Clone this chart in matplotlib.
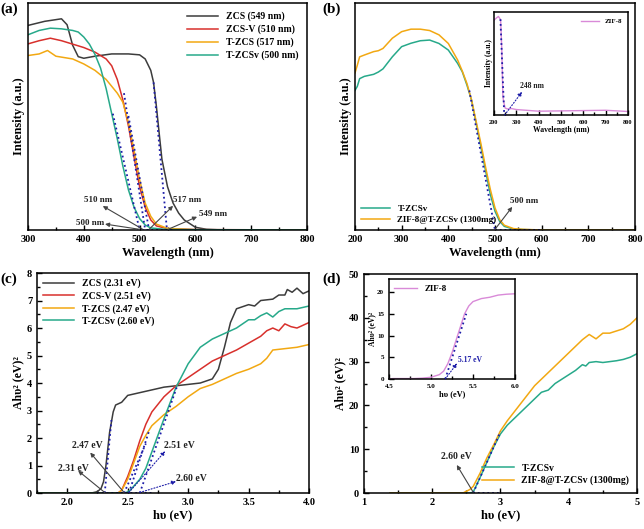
import numpy as np
import matplotlib
matplotlib.use('Agg')
import matplotlib.pyplot as plt
from matplotlib.ticker import AutoMinorLocator

plt.rcParams['font.family'] = 'Liberation Serif'
plt.rcParams['font.weight'] = 'bold'
plt.rcParams['axes.labelweight'] = 'bold'
plt.rcParams['axes.linewidth'] = 1.1

# colours
c_zcs = '#3c3c3c'
c_zcsv = '#d8302c'
c_tzcs = '#f2a812'
c_tzcsv = '#27a98a'
c_zif = '#d98ad8'
c_fit = '#1c1ca8'

# ---- (a) UV-vis spectra ----
wl_zcs = [300, 330, 360, 370, 380, 390, 400, 420, 450, 480, 500, 510, 520, 525, 530, 535, 540, 550, 560, 570, 580, 600, 620, 650, 800]
int_zcs = [0.897, 0.915, 0.926, 0.90, 0.81, 0.76, 0.753, 0.762, 0.772, 0.772, 0.768, 0.75, 0.70, 0.647, 0.544, 0.426, 0.31, 0.19, 0.118, 0.074, 0.044, 0.012, 0.003, 0.0, 0.0]
wl_zcsv = [300, 320, 340, 360, 380, 400, 420, 440, 450, 460, 470, 480, 490, 500, 510, 520, 530, 550, 600, 800]
int_zcsv = [0.816, 0.83, 0.841, 0.83, 0.815, 0.80, 0.78, 0.75, 0.72, 0.66, 0.57, 0.456, 0.32, 0.19, 0.10, 0.044, 0.018, 0.006, 0.002, 0.0]
wl_tzcs = [300, 320, 335, 350, 380, 400, 420, 440, 460, 470, 480, 490, 500, 510, 520, 530, 550, 600, 800]
int_tzcs = [0.765, 0.772, 0.787, 0.762, 0.75, 0.728, 0.70, 0.66, 0.60, 0.56, 0.47, 0.35, 0.22, 0.118, 0.06, 0.026, 0.007, 0.001, 0.0]
wl_tzcsv = [300, 320, 340, 360, 380, 390, 400, 410, 420, 430, 440, 450, 460, 470, 480, 490, 500, 510, 520, 550, 800]
int_tzcsv = [0.856, 0.875, 0.885, 0.882, 0.875, 0.868, 0.846, 0.815, 0.77, 0.71, 0.62, 0.51, 0.40, 0.28, 0.176, 0.10, 0.05, 0.022, 0.009, 0.002, 0.0]

# ---- (b) ----
wl_b = [200, 205, 210, 220, 240, 250, 260, 280, 300, 320, 340, 360, 380, 400, 420, 430, 440, 450, 460, 470, 480, 490, 500, 510, 520, 540, 560, 600, 800]
int_b_tzcsv = [0.615, 0.633, 0.667, 0.677, 0.686, 0.696, 0.71, 0.763, 0.808, 0.823, 0.834, 0.837, 0.822, 0.793, 0.734, 0.697, 0.638, 0.571, 0.467, 0.364, 0.26, 0.157, 0.083, 0.038, 0.016, 0.004, 0.002, 0.0, 0.0]
int_b_zif = [0.692, 0.726, 0.763, 0.771, 0.786, 0.79, 0.80, 0.845, 0.874, 0.885, 0.885, 0.879, 0.86, 0.822, 0.749, 0.70, 0.645, 0.571, 0.475, 0.379, 0.275, 0.179, 0.098, 0.046, 0.021, 0.006, 0.003, 0.0, 0.0]
wl_zif = [200, 210, 220, 230, 235, 240, 245, 250, 260, 280, 300, 350, 400, 500, 600, 700, 750, 800]
int_zif = [0.92, 0.94, 0.957, 0.925, 0.64, 0.177, 0.115, 0.068, 0.059, 0.062, 0.053, 0.045, 0.037, 0.04, 0.043, 0.046, 0.04, 0.034]

# ---- (c) Tauc plots ----
e_zcs = [1.75, 2.2, 2.25, 2.28, 2.3, 2.32, 2.35, 2.38, 2.4, 2.45, 2.5, 2.6, 2.7, 2.8, 2.9, 3.0, 3.1, 3.2, 3.25, 3.3, 3.35, 3.4, 3.5, 3.55, 3.6, 3.7, 3.75, 3.8, 3.82, 3.86, 3.9, 3.95, 4.0]
a_zcs = [0, 0, 0.05, 0.17, 0.41, 1.0, 2.2, 2.95, 3.2, 3.3, 3.55, 3.65, 3.75, 3.85, 3.9, 3.95, 4.0, 4.15, 4.5, 5.3, 6.2, 6.7, 6.85, 6.8, 7.0, 7.05, 7.2, 7.2, 7.4, 7.3, 7.45, 7.25, 7.35]
e_zcsv = [1.75, 2.42, 2.45, 2.5, 2.55, 2.6, 2.65, 2.7, 2.8, 2.9, 3.0, 3.1, 3.2, 3.25, 3.3, 3.4, 3.5, 3.6, 3.65, 3.7, 3.75, 3.8, 3.85, 3.9, 3.95, 4.0]
a_zcsv = [0, 0, 0.1, 0.6, 1.2, 1.9, 2.5, 2.95, 3.5, 3.9, 4.2, 4.5, 4.8, 4.9, 5.0, 5.2, 5.45, 5.7, 5.9, 6.0, 5.9, 6.15, 6.05, 6.0, 6.1, 6.2]
e_tzcs = [1.75, 2.42, 2.45, 2.5, 2.55, 2.6, 2.65, 2.7, 2.8, 2.9, 3.0, 3.1, 3.2, 3.3, 3.4, 3.5, 3.6, 3.65, 3.7, 3.8, 3.9, 4.0]
a_tzcs = [0, 0, 0.1, 0.5, 1.1, 1.7, 2.1, 2.45, 2.85, 3.15, 3.5, 3.8, 3.95, 4.15, 4.35, 4.5, 4.7, 4.9, 5.2, 5.25, 5.3, 5.4]
e_tzcsv = [1.75, 2.48, 2.52, 2.6, 2.65, 2.7, 2.8, 2.9, 3.0, 3.1, 3.2, 3.3, 3.4, 3.5, 3.55, 3.6, 3.65, 3.7, 3.75, 3.8, 3.9, 4.0]
a_tzcsv = [0, 0, 0.1, 0.5, 0.9, 1.5, 2.7, 3.85, 4.7, 5.3, 5.6, 5.8, 6.0, 6.3, 6.3, 6.45, 6.55, 6.4, 6.6, 6.7, 6.7, 6.8]

# ---- (d) ----
e_d = [1.38, 2.45, 2.5, 2.55, 2.6, 2.7, 2.8, 2.9, 3.0, 3.1, 3.2, 3.3, 3.4, 3.5, 3.6, 3.7, 3.8, 3.9, 4.0, 4.1, 4.2, 4.25, 4.3, 4.4, 4.5, 4.6, 4.7, 4.8, 4.9, 5.0]
a_d_tzcsv = [0, 0, 0, 0, 0.2, 3.5, 7, 10.5, 13.5, 15.5, 17, 18.5, 20, 21.5, 23, 23.5, 25, 26, 27, 28, 29.3, 29, 29.8, 30, 29.8, 30, 30.2, 30.5, 31, 31.8]
a_d_zif = [0, 0, 0.4, 0.8, 1.5, 4.5, 8, 11, 14.2, 16.5, 18.5, 20.5, 22.5, 24.5, 26, 27.5, 29, 30.5, 32, 33.5, 35, 35.6, 36.2, 35.2, 36.5, 36.5, 37, 37.5, 38.5, 40]
e_zif = [4.5, 4.55, 4.8, 4.9, 5.0, 5.1, 5.15, 5.2, 5.25, 5.3, 5.35, 5.4, 5.45, 5.5, 5.6, 5.7, 5.8, 5.9, 6.0]
a_zif = [0, 0.1, 0.1, 0.2, 0.4, 1.0, 1.8, 3.5, 6, 9, 12, 15, 16.8, 17.8, 18.5, 18.8, 19.3, 19.5, 19.6]

YLAB = 'Ahυ² (eV)²'


def style(ax, fs=7.5):
    ax.tick_params(direction='in', which='both', labelsize=fs, width=1)
    ax.tick_params(which='minor', length=2)
    ax.xaxis.set_minor_locator(AutoMinorLocator(2))
    for lab in ax.get_xticklabels() + ax.get_yticklabels():
        lab.set_fontweight('bold')


def fit(ax, x, y):
    ax.plot(x, y, ls=':', color=c_fit, lw=1.3)


def pointer(ax, txt, tpos, head, tail, fs=7, color='#444444', ls='-', tcolor='#222222'):
    # arrow from the intercept to the label, head next to the label
    ax.annotate('', xy=head, xytext=tail,
                arrowprops=dict(arrowstyle='-|>', color=color, lw=0.8, ls=ls, mutation_scale=6,
                                shrinkA=0, shrinkB=0))
    ax.text(tpos[0], tpos[1], txt, fontsize=fs, fontweight='bold', color=tcolor, va='center')


fig = plt.figure(figsize=(6.44, 5.29), dpi=100)

# (a)
ax = fig.add_axes([0.0435, 0.5652, 0.4332, 0.429])
ax.plot(wl_zcs, int_zcs, color=c_zcs, lw=1.1, label='ZCS (549 nm)')
ax.plot(wl_zcsv, int_zcsv, color=c_zcsv, lw=1.1, label='ZCS-V (510 nm)')
ax.plot(wl_tzcs, int_tzcs, color=c_tzcs, lw=1.1, label='T-ZCS (517 nm)')
ax.plot(wl_tzcsv, int_tzcsv, color=c_tzcsv, lw=1.1, label='T-ZCSv (500 nm)')
fit(ax, [525, 549], [0.647, 0.0])
fit(ax, [472, 510], [0.60, 0.0])
fit(ax, [480, 517], [0.50, 0.0])
fit(ax, [452, 500], [0.51, 0.0])
fit(ax, [495, 560], [0.002, 0.002])
ax.set_xlim(300, 800)
ax.set_ylim(0, 0.995)
ax.set_yticks([])
ax.set_xlabel('Wavelength (nm)', fontsize=9, labelpad=2)
ax.set_ylabel('Intensity (a.u.)', fontsize=9, labelpad=2)
style(ax)
ax.legend(loc='upper right', frameon=False, handlelength=3.2, labelspacing=0.35, prop={'weight': 'bold', 'size': 7})
pointer(ax, '510 nm', (400, 0.132), (434, 0.105), (505, 0.004), fs=6.5)
pointer(ax, '500 nm', (386, 0.03), (438, 0.026), (500, 0.003), fs=6.5)
pointer(ax, '517 nm', (560, 0.132), (560, 0.106), (517, 0.003), fs=6.5)
pointer(ax, '549 nm', (607, 0.069), (603, 0.058), (551, 0.003), fs=6.5)
fig.text(0.0, 0.975, '(a)', fontsize=11, fontweight='bold')

# (b)
ax = fig.add_axes([0.5512, 0.5652, 0.4348, 0.429])
ax.plot(wl_b, int_b_tzcsv, color=c_tzcsv, lw=1.1, label='T-ZCSv')
ax.plot(wl_b, int_b_zif, color=c_tzcs, lw=1.1, label='ZIF-8@T-ZCSv (1300mg)')
fit(ax, [445, 500], [0.615, 0.0])
fit(ax, [500, 600], [0.001, 0.001])
ax.set_xlim(200, 800)
ax.set_ylim(0, 1.0)
ax.set_yticks([])
ax.set_xlabel('Wavelength (nm)', fontsize=9, labelpad=2)
ax.set_ylabel('Intensity (a.u.)', fontsize=9, labelpad=2)
style(ax)
ax.legend(loc='lower left', frameon=False, handlelength=3.2, labelspacing=0.3, borderaxespad=0.3,
          prop={'weight': 'bold', 'size': 6.5})
pointer(ax, '500 nm', (533, 0.13), (537, 0.102), (500, 0.003), fs=6.5)
fig.text(0.5, 0.975, '(b)', fontsize=11, fontweight='bold')

ins = fig.add_axes([0.767, 0.7826, 0.208, 0.1947])
ins.plot(wl_zif, int_zif, color=c_zif, lw=1.0, label='ZIF-8')
fit(ins, [229, 246], [0.93, 0.0])
ins.set_xlim(200, 800)
ins.set_ylim(0, 1.0)
ins.set_yticks([])
ins.set_xticks([200, 300, 400, 500, 600, 700, 800])
ins.set_xlabel('Wavelength (nm)', fontsize=5.5, labelpad=1)
ins.set_ylabel('Intensity (a.u.)', fontsize=5.5, labelpad=1)
style(ins, fs=4.5)
ins.legend(loc='upper right', frameon=False, handlelength=2.5, prop={'weight': 'bold', 'size': 5})
pointer(ins, '248 nm', (316, 0.28), (326, 0.225), (248, 0.0), fs=5.5, color=c_fit, ls=':')

# (c)
ax = fig.add_axes([0.0575, 0.068, 0.4224, 0.4159])
ax.plot(e_zcs, a_zcs, color=c_zcs, lw=1.1, label='ZCS (2.31 eV)')
ax.plot(e_zcsv, a_zcsv, color=c_zcsv, lw=1.1, label='ZCS-V (2.51 eV)')
ax.plot(e_tzcs, a_tzcs, color=c_tzcs, lw=1.1, label='T-ZCS (2.47 eV)')
ax.plot(e_tzcsv, a_tzcsv, color=c_tzcsv, lw=1.1, label='T-ZCSv (2.60 eV)')
fit(ax, [2.31, 2.365], [0.0, 2.65])
fit(ax, [2.47, 2.65], [0.0, 1.8])
fit(ax, [2.51, 2.68], [0.0, 2.3])
fit(ax, [2.6, 2.91], [0.0, 3.9])
fit(ax, [2.25, 2.7], [0.0, 0.0])
ax.set_xlim(1.75, 4.0)
ax.set_ylim(0, 8)
ax.set_xticks([2.0, 2.5, 3.0, 3.5, 4.0])
ax.set_xlabel('hυ (eV)', fontsize=9, labelpad=2)
ax.set_ylabel(YLAB, fontsize=8.5, labelpad=2)
style(ax)
ax.yaxis.set_minor_locator(AutoMinorLocator(2))
ax.legend(loc='upper left', frameon=False, handlelength=3.2, labelspacing=0.3, borderaxespad=0.2,
          prop={'weight': 'bold', 'size': 7})
pointer(ax, '2.47 eV', (2.04, 1.74), (2.19, 1.47), (2.47, 0.02))
pointer(ax, '2.31 eV', (1.92, 0.89), (2.09, 0.81), (2.31, 0.02))
pointer(ax, '2.51 eV', (2.80, 1.74), (2.81, 1.52), (2.51, 0.02), color=c_fit, ls=':')
pointer(ax, '2.60 eV', (2.90, 0.53), (2.90, 0.42), (2.6, 0.02), color=c_fit, ls=':')
fig.text(0.0, 0.465, '(c)', fontsize=11, fontweight='bold')

# (d)
ax = fig.add_axes([0.5652, 0.068, 0.4239, 0.414])
ax.plot(e_d, a_d_tzcsv, color=c_tzcsv, lw=1.1, label='T-ZCSv')
ax.plot(e_d, a_d_zif, color=c_tzcs, lw=1.1, label='ZIF-8@T-ZCSv (1300mg)')
fit(ax, [2.6, 3.0], [0.0, 14])
fit(ax, [2.6, 3.0], [0.0, 0.0])
ax.set_xlim(1, 5)
ax.set_ylim(0, 50)
ax.set_xticks([1, 2, 3, 4, 5])
ax.set_xlabel('hυ (eV)', fontsize=9, labelpad=2)
ax.set_ylabel(YLAB, fontsize=8.5, labelpad=2)
style(ax)
ax.yaxis.set_minor_locator(AutoMinorLocator(2))
ax.legend(loc='lower right', frameon=False, handlelength=3.2, labelspacing=0.3, borderaxespad=0.4,
          prop={'weight': 'bold', 'size': 7})
pointer(ax, '2.60 eV', (2.13, 8.3), (2.36, 6.4), (2.6, 0.2))
fig.text(0.5, 0.465, '(d)', fontsize=11, fontweight='bold')

ins = fig.add_axes([0.604, 0.2836, 0.1957, 0.189])
ins.plot(e_zif, a_zif, color=c_zif, lw=1.0, label='ZIF-8')
fit(ins, [5.17, 5.42], [0.0, 15])
ins.set_xlim(4.5, 6.0)
ins.set_ylim(0, 23)
ins.set_xticks([4.5, 5.0, 5.5, 6.0])
ins.set_yticks([0, 5, 10, 15, 20])
ins.set_xlabel('hυ (eV)', fontsize=6, labelpad=1)
ins.set_ylabel(YLAB, fontsize=5.5, labelpad=1)
style(ins, fs=5)
ins.legend(loc='upper left', frameon=False, handlelength=2.5, borderaxespad=0.2, prop={'weight': 'bold', 'size': 6.5})
pointer(ins, '5.17 eV', (5.32, 4.3), (5.31, 3.6), (5.17, 0.0), fs=5.5, color=c_fit, ls=':', tcolor=c_fit)

fig.savefig('out.png', dpi=100)
